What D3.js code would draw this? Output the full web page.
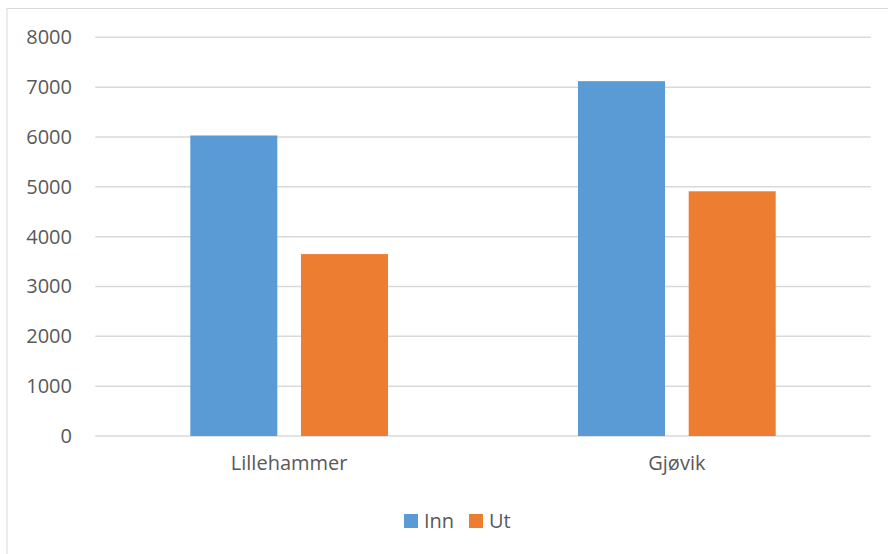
<!DOCTYPE html>
<html>
<head>
<meta charset="utf-8">
<script src="https://cdn.jsdelivr.net/npm/d3@7"></script>
<style>
  body { margin: 0; background: #fff; }
  svg text { font-family: "Open Sans", sans-serif; fill: #595959; }
</style>
</head>
<body>
<svg id="canvas" width="888" height="554"></svg>
<script>
// data
let categories = ["Lillehammer", "Gjøvik"];
let seriesNames = ["Inn", "Ut"];
let innValues = [6030, 7120];
let utValues = [3650, 4910];
let yTicks = [0, 1000, 2000, 3000, 4000, 5000, 6000, 7000, 8000];
let colors = ["#5B9BD5", "#ED7D31"];

let canvas = d3.select("#canvas");

// chart border
canvas.append("rect")
  .attr("x", 7).attr("y", 8.5)
  .attr("width", 900).attr("height", 560)
  .attr("fill", "none").attr("stroke", "#D9D9D9").attr("stroke-width", 1);

let plotLeft = 95.3, plotRight = 870.7, plotTop = 37.3, plotBottom = 436;

let y = d3.scaleLinear().domain([0, 8000]).range([plotBottom, plotTop]);
let x = d3.scaleBand().domain(categories).range([plotLeft, plotRight]);
// inner bars: outer padding 95, bar 87, gap 23.7
let xInner = d3.scaleBand().domain(seriesNames)
  .range([95, x.bandwidth() - 95]).paddingInner(23.7 / (87 + 23.7));

// gridlines
canvas.append("g")
  .selectAll("line")
  .data(yTicks)
  .enter()
  .append("line")
  .attr("x1", plotLeft).attr("x2", plotRight)
  .attr("y1", (d) => y(d)).attr("y2", (d) => y(d))
  .attr("stroke", "#D9D9D9").attr("stroke-width", 1.5);

// y axis labels
let yAxis = d3.axisLeft(y).tickValues(yTicks).tickFormat(d3.format("d"))
  .tickSize(0).tickPadding(0);
let yG = canvas.append("g").attr("transform", "translate(72,0)").call(yAxis);
yG.select(".domain").remove();
yG.selectAll("text")
  .attr("font-size", "20px")
  .style("font-family", "'Open Sans', sans-serif")
  .attr("fill", "#595959");

// bars
let rows = categories.map((c, i) => ({ cat: c, values: [innValues[i], utValues[i]] }));

let groups = canvas.append("g")
  .selectAll("g")
  .data(rows)
  .enter()
  .append("g")
  .attr("transform", (d) => "translate(" + x(d.cat) + ",0)");

groups.selectAll("rect")
  .data((d) => d.values.map((v, j) => ({ name: seriesNames[j], value: v, color: colors[j] })))
  .enter()
  .append("rect")
  .attr("x", (d) => xInner(d.name))
  .attr("width", xInner.bandwidth())
  .attr("y", (d) => y(d.value))
  .attr("height", (d) => y(0) - y(d.value))
  .attr("fill", (d) => d.color);

// x axis labels
let xAxis = d3.axisBottom(x).tickSize(0).tickPadding(0);
let xG = canvas.append("g").attr("transform", "translate(0,456)").call(xAxis);
xG.select(".domain").remove();
xG.selectAll("text")
  .attr("font-size", "20px")
  .style("font-family", "'Open Sans', sans-serif")
  .attr("fill", "#595959");

// legend
let legendX = [404, 469];
let legend = canvas.append("g")
  .selectAll("g")
  .data(seriesNames)
  .enter()
  .append("g")
  .attr("transform", (d, i) => "translate(" + legendX[i] + ",514)");

legend.append("rect")
  .attr("width", 14).attr("height", 14)
  .attr("fill", (d, i) => colors[i]);

legend.append("text")
  .attr("x", 20).attr("y", 14)
  .attr("font-size", "20px")
  .text((d) => d);
</script>
</body>
</html>
